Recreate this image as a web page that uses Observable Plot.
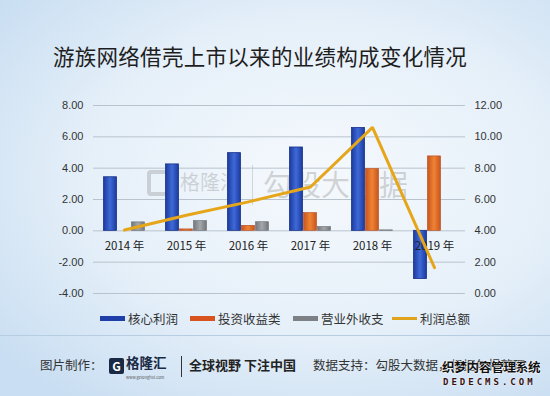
<!DOCTYPE html>
<html>
<head>
<meta charset="utf-8">
<script src="https://cdn.jsdelivr.net/npm/d3@7"></script>
<script src="https://cdn.jsdelivr.net/npm/@observablehq/plot@0.6"></script>
<style>
  html, body { margin: 0; padding: 0; }
  #wrap {
    position: relative; width: 550px; height: 396px; overflow: hidden;
    background: radial-gradient(ellipse 75% 70% at 58% 45%, #f5f9fd 0%, #e6f0f9 55%, #c9def2 100%);
    font-family: "Noto Sans CJK SC", "Noto Sans", sans-serif;
  }
  #title {
    position: absolute; top: 40px; left: 0; width: 520px; text-align: center;
    font-size: 21.5px; color: #1e1e1e; letter-spacing: 0.3px;
  }
  #chart { position: absolute; top: 80px; left: 0; }
  .wm { position: absolute; color: rgba(140,140,140,0.34); line-height: 1; }
  .leg { position: absolute; top: 309px; font-size: 12.5px; color: #333; display: flex; align-items: center; }
  .sw { display: inline-block; width: 25px; height: 5px; margin-right: 3px; }
  #sep { position: absolute; top: 335px; left: 0; width: 550px; height: 1px; background: #b7cde2; }
  .ft { position: absolute; top: 359px; font-size: 12.5px; line-height: 1; color: #333; white-space: nowrap; }
</style>
</head>
<body>
<div id="wrap">
  <div id="title">游族网络借壳上市以来的业绩构成变化情况</div>
  <div class="wm" style="left:147px;top:170px;width:30px;height:26px;border:4px solid rgba(140,140,140,0.34);border-radius:4px;box-sizing:border-box;"></div>
  <div class="wm" style="left:180px;top:172px;font-size:20px;">格隆汇</div>
  <div class="wm" style="left:252px;top:165px;width:1px;height:40px;background:rgba(140,140,140,0.3);"></div>
  <div class="wm" style="left:263px;top:169px;font-size:29px;">勾股大数据</div>
  <div id="chart"></div>
  <div class="leg" style="left:100px;"><span class="sw" style="background:#1f3fa8"></span>核心利润</div>
  <div class="leg" style="left:190px;"><span class="sw" style="background:#d9531e"></span>投资收益类</div>
  <div class="leg" style="left:293px;"><span class="sw" style="background:#7d8186"></span>营业外收支</div>
  <div class="leg" style="left:392px;"><span class="sw" style="background:#e2a31c;height:3px"></span>利润总额</div>
  <div id="sep"></div>
  <div class="ft" style="left:40px;">图片制作：</div>
  <div class="ft" style="left:109px;top:358px;width:15px;height:16px;background:#1b2a44;border-radius:2px;color:#fff;font-weight:bold;text-align:center;line-height:16px;font-size:12px;">G</div>
  <div class="ft" style="left:126px;top:356px;font-size:13.5px;font-weight:bold;color:#1b2a44;">格隆汇</div>
  <div class="ft" style="left:126px;top:375px;font-size:4px;color:#555;">www.gelonghui.com</div>
  <div class="ft" style="left:181px;top:356px;width:1px;height:21px;background:#333;"></div>
  <div class="ft" style="left:189px;font-weight:bold;color:#222;font-size:13px;top:358px;">全球视野 下注中国</div>
  <div class="ft" style="left:313px;">数据支持：勾股大数据，根据年报整理</div>
  <div class="ft" style="left:442px;top:361px;font-size:12.5px;font-weight:bold;color:#111;letter-spacing:-0.2px;text-shadow:0 0 2px #fff,0 0 2px #fff,0 0 1px #fff;">织梦内容管理系统</div>
  <div class="ft" style="left:443px;top:378px;font-size:9px;font-weight:bold;color:#3a1010;letter-spacing:3px;font-family:'DejaVu Sans Mono',monospace;text-shadow:0 0 2px #fff;">DEDECMS.COM</div>
</div>
<script>
const years = ["2014", "2015", "2016", "2017", "2018", "2019"];
const coreProfit = [3.42, 4.24, 4.96, 5.32, 6.57, -3.08];
const investIncome = [null, 0.09, 0.32, 1.13, 3.94, 4.75];
const nonOperating = [0.54, 0.62, 0.55, 0.24, 0.03, null];
const totalProfit = [4.05, 5.0, 5.85, 6.8, 10.6, 1.65];
const leftTicks = [-4, -2, 0, 2, 4, 6, 8];
const rightOffset = 4; // right axis = left axis + 4 (0..12 vs -4..8)

const rows = years.map((y, i) => ({
  year: y, core: coreProfit[i], invest: investIncome[i], nonop: nonOperating[i], total: totalProfit[i]
}));

const font = "'Liberation Sans', Arial, sans-serif";
const chart = Plot.plot({
  width: 550, height: 230,
  marginTop: 25, marginBottom: 17, marginLeft: 93, marginRight: 85,
  x: { domain: years, type: "band", padding: 0, axis: null },
  y: { domain: [-4, 8], axis: null },
  style: { background: "transparent", fontFamily: font, fontSize: "11px", color: "#333", overflow: "visible" },
  marks: [
    Plot.gridY(leftTicks, { stroke: "#b9c3cd", strokeOpacity: 1, strokeWidth: 1 }),
    Plot.axisY(leftTicks, { anchor: "left", tickSize: 0, tickPadding: 10, tickFormat: d => d.toFixed(2), fontSize: 11, fill: "#333" }),
    Plot.axisY(leftTicks, { anchor: "right", tickSize: 0, tickPadding: 9, tickFormat: d => (d + rightOffset).toFixed(2), fontSize: 11, fill: "#333" }),
    Plot.barY(rows.filter(d => d.core != null), { x: "year", y: "core", dx: -14, insetLeft: 24.5, insetRight: 24.5, fill: "url(#gBlue)", stroke: "#17328a", strokeWidth: 0.8 }),
    Plot.barY(rows.filter(d => d.invest != null), { x: "year", y: "invest", dx: 0, insetLeft: 24.5, insetRight: 24.5, fill: "url(#gOrange)", stroke: "#b5461a", strokeWidth: 0.6 }),
    Plot.barY(rows.filter(d => d.nonop != null), { x: "year", y: "nonop", dx: 14, insetLeft: 24.5, insetRight: 24.5, fill: "url(#gGray)", stroke: "#6a6e72", strokeWidth: 0.6 }),
    Plot.text(rows, { x: "year", y: () => 0, dy: 15, text: d => d.year + " 年", fontSize: 11.5, fill: "#222", fontFamily: "'Noto Sans CJK SC', sans-serif" }),
    Plot.line(rows, { x: "year", y: d => d.total - rightOffset, stroke: "#e6a61a", strokeWidth: 3, strokeLinejoin: "miter" })
  ]
});

d3.select(chart).insert("defs", ":first-child").html(`
  <linearGradient id="gBlue" x1="0" x2="1" y1="0" y2="0">
    <stop offset="0" stop-color="#1c3a9e"/><stop offset="0.5" stop-color="#3f6ad8"/><stop offset="1" stop-color="#1c3a9e"/>
  </linearGradient>
  <linearGradient id="gOrange" x1="0" x2="1" y1="0" y2="0">
    <stop offset="0" stop-color="#c9541c"/><stop offset="0.5" stop-color="#ee8434"/><stop offset="1" stop-color="#c9541c"/>
  </linearGradient>
  <linearGradient id="gGray" x1="0" x2="1" y1="0" y2="0">
    <stop offset="0" stop-color="#72767a"/><stop offset="0.5" stop-color="#a4a8ac"/><stop offset="1" stop-color="#72767a"/>
  </linearGradient>`);

document.getElementById("chart").appendChild(chart);
</script>
</body>
</html>
